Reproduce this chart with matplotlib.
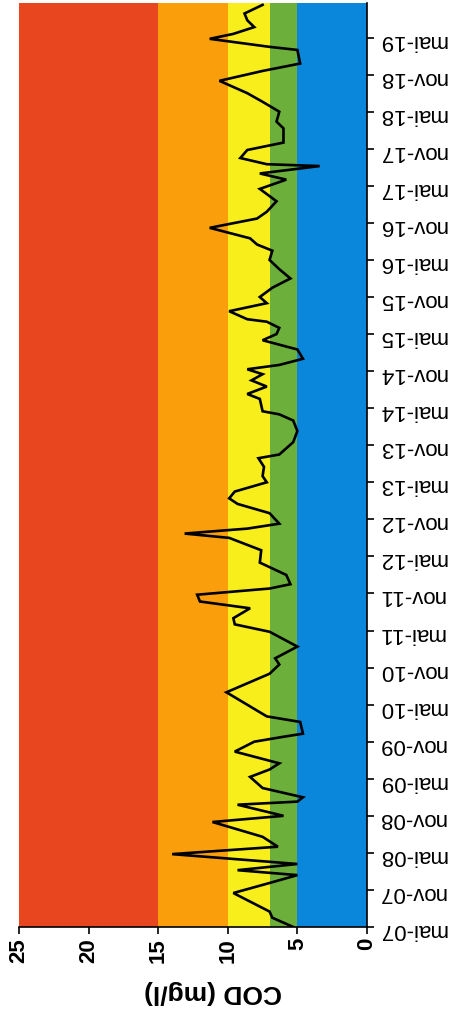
import matplotlib
matplotlib.use("Agg")
import matplotlib.pyplot as plt

# months since mai-07 (sample positions) and COD values (mg/l)
months = [0, 1.5, 2.5, 5.5, 7.0, 8.4, 9.2, 10.2, 11.8, 13, 14.6, 17, 18, 19.8, 20.3, 21,
          22.5, 24.3, 25.5, 26.5, 28.4, 30, 30.8, 31.3, 33.2, 34.1, 38, 41, 42.5, 43.5,
          45.4, 47.8, 49, 50, 51.6, 52.7, 53.8, 54.8, 55.5, 57, 59, 61, 63, 63.7, 64.5,
          65.3, 67, 68.5, 69.4, 70.5, 72, 73, 74.5, 75.9, 76.5, 78.5, 80.3, 82, 83, 83.5,
          85.5, 86.3, 87.5, 88.5, 89.5, 90.3, 91, 92, 93.5, 95, 96, 97, 98, 98.4, 99.7,
          101, 102, 103.5, 105, 106.5, 108, 109.5, 110.5, 111.5, 113.2, 114.7, 115.8,
          117.5, 119.5, 121, 122, 123.2, 123.5, 124.5, 125.8, 127, 129.3, 130.4, 132,
          133.6, 135, 137, 138.6, 139.8, 142, 142.5, 143.8, 144.6, 145.7, 146.8, 147.9, 149.3]
cod = [5.3, 6.8, 7.0, 9.6, 7.2, 5.0, 9.3, 5.0, 14.0, 6.4, 7.5, 11.1, 6.0, 9.3, 5.0, 4.6,
       7.5, 8.4, 7.0, 6.3, 9.5, 8.1, 6.0, 4.6, 4.8, 7.2, 10.1, 7.0, 6.3, 6.6,
       5.0, 7.0, 9.5, 9.6, 8.4, 12.0, 12.2, 7.0, 5.5, 5.8, 7.7, 7.6, 9.9, 13.1, 8.6,
       6.3, 7.0, 9.3, 9.9, 9.5, 7.2, 7.5, 7.4, 7.8, 6.3, 5.3, 5.0, 5.3, 6.3, 7.5,
       7.7, 8.6, 7.2, 8.3, 7.5, 8.6, 6.3, 4.6, 5.0, 7.5, 6.5, 6.3, 7.2, 8.6, 9.9,
       7.2, 7.7, 6.8, 5.5, 6.3, 7.0, 6.8, 7.9, 8.4, 11.3, 7.9, 7.2,
       6.5, 7.7, 5.8, 7.7, 3.4, 7.2, 9.1, 8.6, 6.0, 6.0, 6.5, 6.3,
       7.5, 8.6, 10.6, 7.5, 4.8, 5.0, 7.0, 11.3, 9.6, 8.1, 8.6, 8.8, 7.5]

# class bands (COD limits) and colours
band_edges = [0, 5, 7, 10, 15, 25]
band_colors = ["#0A87DA", "#6CAF3A", "#F7EE1C", "#FA9E0C", "#E8461E"]

date_ticks = list(range(0, 145, 6))
date_labels = ["mai-07", "nov-07", "mai-08", "nov-08", "mai-09", "nov-09", "mai-10",
               "nov-10", "mai-11", "nov-11", "mai-12", "nov-12", "mai-13", "nov-13",
               "mai-14", "nov-14", "mai-15", "nov-15", "mai-16", "nov-16", "mai-17",
               "nov-17", "mai-18", "nov-18", "mai-19"]
cod_ticks = [0, 5, 10, 15, 20, 25]

W, H = 453, 1014
fig = plt.figure(figsize=(W / 100, H / 100), dpi=100)
fig.patch.set_facecolor("white")
ax = fig.add_axes([19 / W, 1 - 927 / H, (367 - 19) / W, (927 - 3) / H])

for lo, hi, c in zip(band_edges[:-1], band_edges[1:], band_colors):
    ax.axvspan(lo, hi, color=c, lw=0, zorder=0)

ax.plot(cod, months, color="black", lw=1.9, zorder=3, solid_joinstyle="miter")

ax.set_xlim(25, 0)
ax.set_ylim(0, 149.6)

font = "Liberation Sans"
ax.set_xticks(cod_ticks)
ax.set_xticklabels([str(v) for v in cod_ticks], rotation=90, fontsize=16,
                   family=font, fontweight="bold")
ax.yaxis.tick_right()
ax.set_yticks(date_ticks)
ax.set_yticklabels(date_labels, rotation=180, fontsize=16, family=font)
ax.tick_params(axis="x", direction="out", length=5, width=1.2, pad=3)
ax.tick_params(axis="y", direction="out", length=5, width=1.2, pad=3)

for s in ["top", "left"]:
    ax.spines[s].set_visible(False)
ax.spines["bottom"].set_linewidth(1.2)
ax.spines["right"].set_linewidth(1.2)

fig.text(213 / W, 1 - 992 / H, "COD (mg/l)", rotation=180, ha="center", va="center",
         fontsize=19, family=font, fontweight="bold")

fig.savefig("out.png", dpi=100)
